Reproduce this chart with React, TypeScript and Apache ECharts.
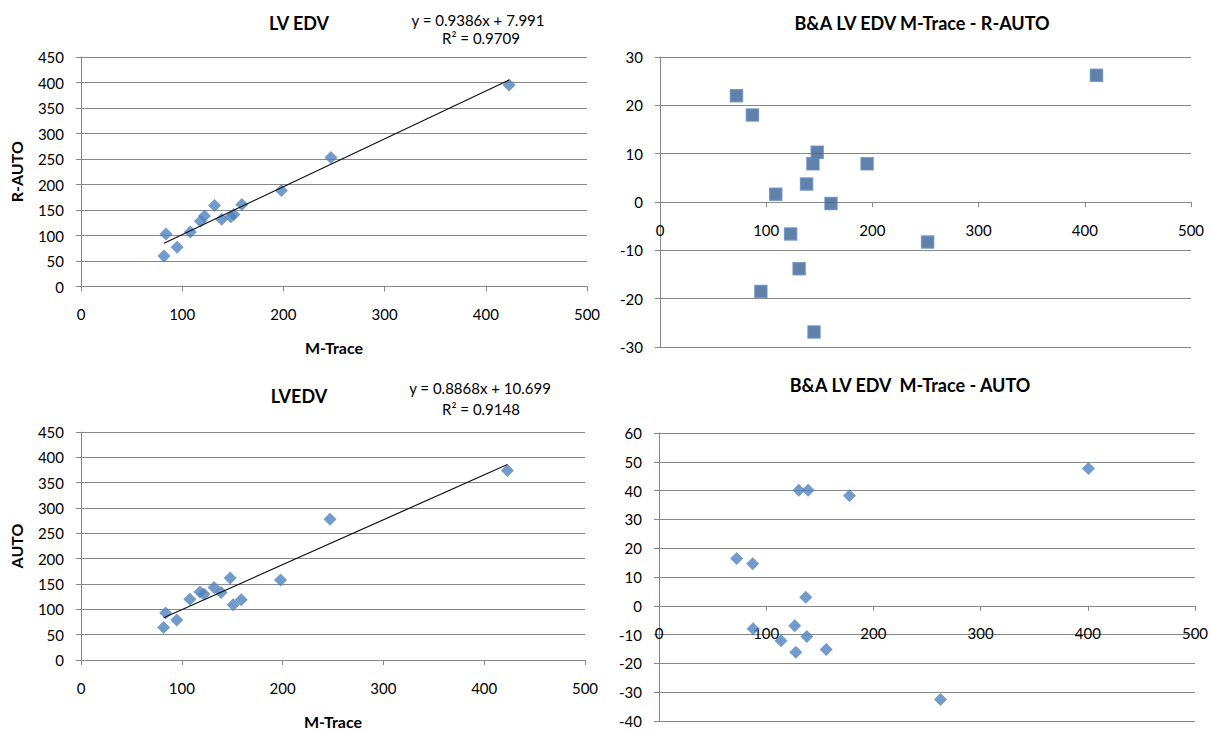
import React, { useEffect, useRef } from "react";
import * as echarts from "echarts";

// ---- Data ----
const mTrace = [82, 84, 95, 108, 118, 122, 132, 139, 148, 151, 159, 198, 247, 423];
const rAuto = [60, 103, 77, 107, 128, 138, 159, 132, 137, 141, 161, 188, 253, 395];
const autoVals = [64, 93, 79, 120, 134, 130, 143, 133, 162, 109, 119, 158, 278, 374];

const baMeanR = [72, 87, 95, 109, 123, 131, 138, 144, 148, 145, 161, 195, 252, 411];
const baDiffR = [22, 18, -18.5, 1.6, -6.6, -13.8, 3.7, 7.9, 10.3, -26.9, -0.3, 7.9, -8.3, 26.2];

const baMeanA = [72.5, 87.4, 130.4, 139.1, 177.7, 400.6, 136.9, 87.8, 113.8, 126.6, 127.6, 137.9, 156, 262.6];
const baDiffA = [16.4, 14.6, 40.1, 40.1, 38.2, 47.7, 3, -8.0, -12.1, -6.9, -16.1, -10.7, -15.2, -32.5];

const fitR = { slope: 0.9386, intercept: 7.991, r2: 0.9709 };
const fitA = { slope: 0.8868, intercept: 10.699, r2: 0.9148 };

// axis ranges [min, max, interval]
const xRange = [0, 500, 100];
const yRangeCorr = [0, 450, 50];
const yRangeBAR = [-30, 30, 10];
const yRangeBAA = [-40, 60, 10];

const chartTitles = ["LV EDV", "B&A LV EDV M-Trace - R-AUTO", "LVEDV", "B&A LV EDV  M-Trace - AUTO"];
const xAxisName = "M-Trace";
const yAxisNames = ["R-AUTO", "AUTO"];

const FONT = "Lato, 'Open Sans', sans-serif";
const GRID_COLOR = "#878787";
const BLUE = "#4F81BD";

// plot rectangles (layout)
const rects = [
  { left: 81, top: 57, width: 506, height: 229.5 },
  { left: 660, top: 57, width: 531, height: 290 },
  { left: 81, top: 432, width: 504, height: 228 },
  { left: 659, top: 433, width: 536, height: 288 },
];

function trend(xs: number[], fit: { slope: number; intercept: number }) {
  const lo = Math.min(...xs);
  const hi = Math.max(...xs);
  return [
    [lo, fit.slope * lo + fit.intercept],
    [hi, fit.slope * hi + fit.intercept],
  ];
}

function xAxisCfg(gridIndex: number, withName: boolean, show = true) {
  return {
    type: "value",
    gridIndex,
    show,
    min: xRange[0],
    max: xRange[1],
    interval: xRange[2],
    name: withName ? xAxisName : "",
    nameLocation: "middle",
    nameGap: 53,
    nameTextStyle: { fontFamily: FONT, fontSize: 16, fontWeight: "bold", color: "#000" },
    axisLine: { show: true, onZero: false, lineStyle: { color: GRID_COLOR, width: 1 } },
    axisTick: { show: true, inside: false, length: 5, lineStyle: { color: GRID_COLOR } },
    axisLabel: { margin: 20, fontFamily: FONT, fontSize: 15, color: "#000" },
    splitLine: { show: false },
  };
}

function yAxisCfg(gridIndex: number, r: number[], name: string) {
  return {
    type: "value",
    gridIndex,
    min: r[0],
    max: r[1],
    interval: r[2],
    name,
    nameLocation: "middle",
    nameGap: 57,
    nameRotate: 90,
    nameTextStyle: { fontFamily: FONT, fontSize: 16, fontWeight: "bold", color: "#000" },
    axisLine: { show: true, onZero: false, lineStyle: { color: GRID_COLOR, width: 1 } },
    axisTick: { show: true, inside: false, length: 5, lineStyle: { color: GRID_COLOR } },
    axisLabel: { margin: 17, fontFamily: FONT, fontSize: 15, color: "#000" },
    splitLine: { show: true, lineStyle: { color: GRID_COLOR, width: 1 } },
  };
}

// helper grid whose bottom edge sits on the y = 0 line of a Bland-Altman panel
function zeroGrid(rect: { left: number; top: number; width: number; height: number }, r: number[]) {
  return {
    left: rect.left,
    top: rect.top,
    width: rect.width,
    height: (rect.height * r[1]) / (r[1] - r[0]),
    outerBoundsMode: "none",
  };
}

export default function App() {
  const ref = useRef<HTMLDivElement>(null);

  useEffect(() => {
    document.body.style.margin = "0";
    if (!ref.current) return;
    const chart = echarts.init(ref.current, undefined, { renderer: "svg" });

    const titleStyle = { fontFamily: FONT, fontSize: 18, fontWeight: "bold", color: "#000" };
    const eqStyle = (text: string) => ({ text, font: `15px ${FONT}`, fill: "#000", textAlign: "center", textVerticalAlign: "middle" });

    const option: any = {
      animation: false,
      backgroundColor: "#fff",
      title: [
        { text: chartTitles[0], left: 299, top: 14, textAlign: "center", padding: 0, textStyle: titleStyle },
        { text: chartTitles[1], left: 922, top: 14, textAlign: "center", padding: 0, textStyle: titleStyle },
        { text: chartTitles[2], left: 299, top: 387, textAlign: "center", padding: 0, textStyle: titleStyle },
        { text: chartTitles[3], left: 910, top: 376, textAlign: "center", padding: 0, textStyle: titleStyle },
      ],
      graphic: [
        { type: "text", x: 478, y: 20, style: eqStyle(`y = ${fitR.slope}x + ${fitR.intercept}`) },
        { type: "text", x: 481, y: 38, style: eqStyle(`R² = ${fitR.r2}`) },
        { type: "text", x: 480, y: 388, style: eqStyle(`y = ${fitA.slope}x + ${fitA.intercept}`) },
        { type: "text", x: 481, y: 409, style: eqStyle(`R² = ${fitA.r2}`) },
      ],
      grid: [
        ...rects.map((r) => ({ ...r, outerBoundsMode: "none" })),
        zeroGrid(rects[1], yRangeBAR),
        zeroGrid(rects[3], yRangeBAA),
      ],
      xAxis: [
        xAxisCfg(0, true),
        xAxisCfg(1, false, false),
        xAxisCfg(2, true),
        xAxisCfg(3, false, false),
        xAxisCfg(4, false),
        xAxisCfg(5, false),
      ],
      yAxis: [
        yAxisCfg(0, yRangeCorr, yAxisNames[0]),
        yAxisCfg(1, yRangeBAR, ""),
        yAxisCfg(2, yRangeCorr, yAxisNames[1]),
        yAxisCfg(3, yRangeBAA, ""),
        { type: "value", gridIndex: 4, min: 0, max: 1, show: false, splitLine: { show: false } },
        { type: "value", gridIndex: 5, min: 0, max: 1, show: false, splitLine: { show: false } },
      ],
      series: [
        {
          type: "scatter",
          xAxisIndex: 0,
          yAxisIndex: 0,
          symbol: "diamond",
          symbolSize: 13,
          itemStyle: { color: BLUE },
          data: mTrace.map((x, i) => [x, rAuto[i]]),
        },
        {
          type: "line",
          xAxisIndex: 0,
          yAxisIndex: 0,
          showSymbol: false,
          symbol: "none",
          z: 5,
          lineStyle: { color: "#111", width: 1.2 },
          data: trend(mTrace, fitR),
        },
        {
          type: "scatter",
          xAxisIndex: 1,
          yAxisIndex: 1,
          symbol: "rect",
          symbolSize: 12,
          z: 6,
          itemStyle: { color: "#3A6294", borderColor: "#5F8BC2", borderWidth: 1.5 },
          data: baMeanR.map((x, i) => [x, baDiffR[i]]),
        },
        {
          type: "scatter",
          xAxisIndex: 2,
          yAxisIndex: 2,
          symbol: "diamond",
          symbolSize: 13,
          itemStyle: { color: BLUE },
          data: mTrace.map((x, i) => [x, autoVals[i]]),
        },
        {
          type: "line",
          xAxisIndex: 2,
          yAxisIndex: 2,
          showSymbol: false,
          symbol: "none",
          z: 5,
          lineStyle: { color: "#111", width: 1.2 },
          data: trend(mTrace, fitA),
        },
        {
          type: "scatter",
          xAxisIndex: 3,
          yAxisIndex: 3,
          symbol: "diamond",
          symbolSize: 13,
          z: 6,
          itemStyle: { color: BLUE },
          data: baMeanA.map((x, i) => [x, baDiffA[i]]),
        },
      ],
    };

    chart.setOption(option);
    return () => chart.dispose();
  }, []);

  return <div ref={ref} style={{ width: 1211, height: 731 }} />;
}
